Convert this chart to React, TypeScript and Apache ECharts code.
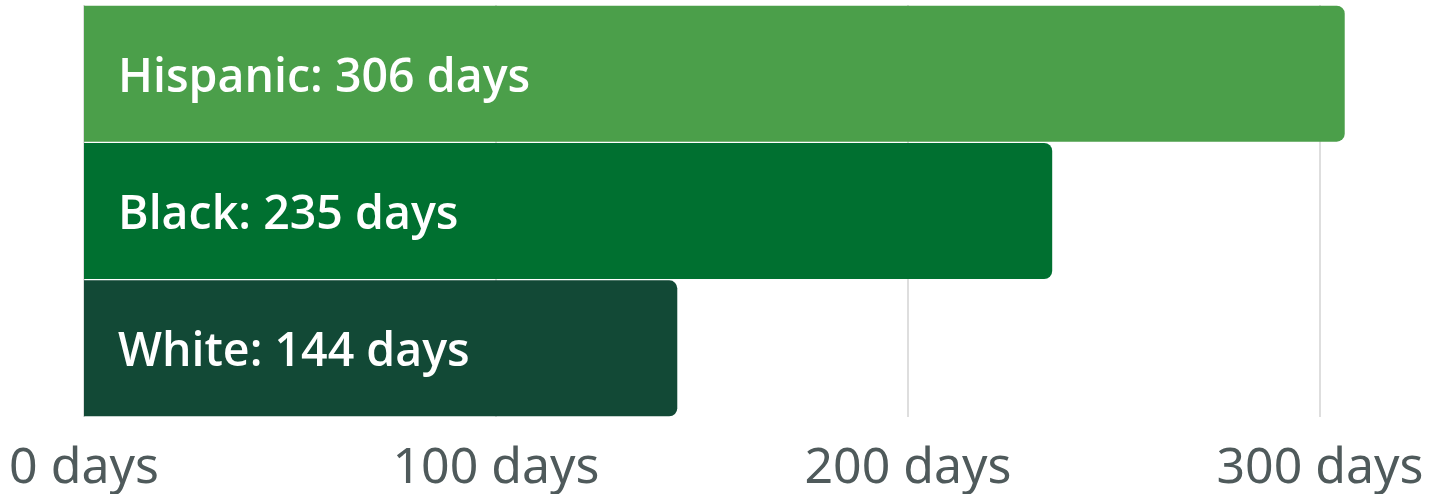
import React, { useEffect, useRef } from "react";
import * as echarts from "echarts";

const categories = ["Hispanic", "Black", "White"];
const values = [306, 235, 144];
const barColors = ["#4b9f4a", "#007030", "#124936"];
const tickValues = [0, 100, 200, 300];

export default function App() {
  const ref = useRef<HTMLDivElement>(null);
  useEffect(() => {
    if (!ref.current) return;
    const chart = echarts.init(ref.current, undefined, { renderer: "svg" });
    chart.setOption({
      animation: false,
      grid: { left: 84, top: 5, width: 1318.4, height: 412, containLabel: false },
      xAxis: {
        type: "value",
        min: 0,
        max: 320,
        interval: 100,
        axisLine: { show: false },
        axisTick: { show: false, customValues: tickValues },
        splitLine: { show: true, lineStyle: { color: "#d3d3d3", width: 1.5 } },
        axisLabel: {
          margin: 22,
          fontFamily: "Noto Sans",
          fontSize: 50,
          color: "#4f5a5b",
          customValues: tickValues,
          formatter: (v: number) => `${v} days`,
        },
      },
      yAxis: {
        type: "category",
        data: categories,
        inverse: true,
        axisLine: { show: false },
        axisTick: { show: false },
        axisLabel: { show: false },
      },
      series: [
        {
          type: "bar",
          barWidth: 136,
          data: values.map((v, i) => ({ value: v, itemStyle: { color: barColors[i] } })),
          itemStyle: { borderRadius: [0, 8, 8, 0] },
          label: {
            show: true,
            position: "insideLeft",
            distance: 34,
            formatter: "{b}: {c} days",
            color: "#ffffff",
            fontFamily: "Open Sans",
            fontWeight: 600,
            fontSize: 46.5,
          },
        },
      ],
    });
    return () => chart.dispose();
  }, []);
  return (
    <div
      ref={ref}
      style={{ position: "fixed", left: 0, top: 0, width: 1445, height: 494 }}
    />
  );
}
